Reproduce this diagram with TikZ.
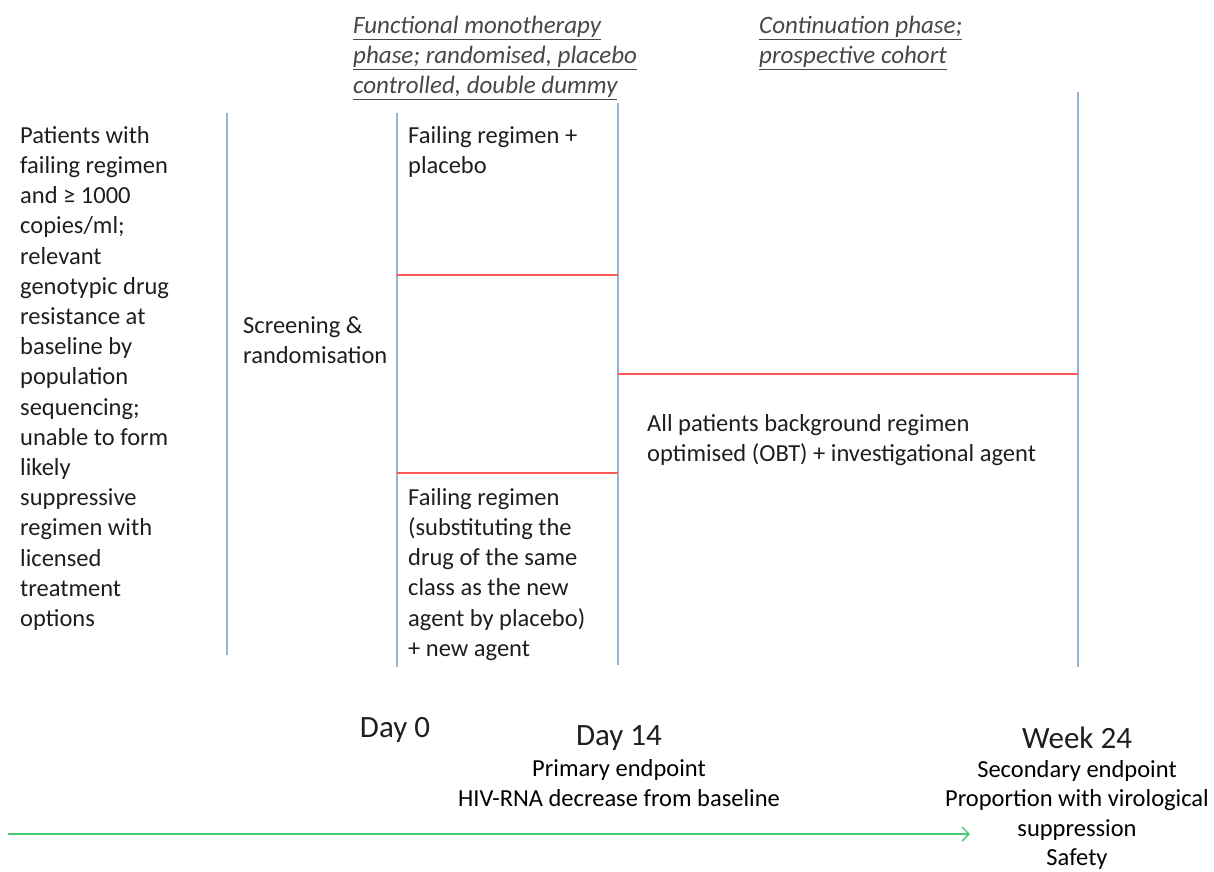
\documentclass[tikz,border=0pt]{standalone}
\usepackage{fontspec}
\setmainfont{Carlito}
\usetikzlibrary{arrows.meta}
\definecolor{phaseblue}{RGB}{149,179,215}
\definecolor{armred}{RGB}{255,85,85}
\definecolor{timegreen}{RGB}{70,200,120}
\definecolor{inkgray}{RGB}{30,30,30}
\tikzset{
  phaseline/.style={draw=phaseblue, line width=2pt},
  armline/.style={draw=armred, line width=1.6pt},
  txt/.style={inner sep=0pt, anchor=north west, align=left, text=inkgray,
    font=\fontsize{24.5}{30.2}\selectfont},
  hdr/.style={txt, text=black!72, font=\fontsize{25}{30}\selectfont\itshape},
  daylbl/.style={inner sep=0pt, anchor=base, text=inkgray, font=\fontsize{31}{34}\selectfont},
  endpt/.style={inner sep=0pt, anchor=north, align=center, text=black,
    font=\fontsize{24.5}{30.5}\selectfont}
}
\begin{document}
\begin{tikzpicture}[x=1pt, y=-1pt]
  \useasboundingbox (0,0) rectangle (1214,871);
  % phase boundaries
  \draw
    (227,113) coordinate (a0) (227,655) coordinate (a1)
    (397,113) coordinate (b0) (397,667) coordinate (b1)
    (618,103) coordinate (c0) (618,665) coordinate (c1)
    (1078,92) coordinate (d0) (1078,667) coordinate (d1);
  \begin{scope}[phaseline]
    \draw (a0) to (a1);
    \draw (b0) to (b1);
    \draw (c0) to (c1);
    \draw (d0) to (d1);
  \end{scope}
  % arms
  \draw
    (397,275) coordinate (r1) (618,275) coordinate (r2)
    (397,473) coordinate (r3) (618,473) coordinate (r4)
    (618,374) coordinate (r5) (1078,374) coordinate (r6);
  \begin{scope}[armline]
    \draw (r1) to (r2);
    \draw (r3) to (r4);
    \draw (r5) to (r6);
  \end{scope}
  % headers
  \node[hdr] (mono) at (353,16) {\underline{Functional monotherapy}\\
    \underline{phase; randomised, placebo}\\\underline{controlled, double dummy}};
  \node[hdr] (cont) at (759,16) {\underline{Continuation phase;}\\
    \underline{prospective cohort}};
  % boxes
  \node[txt] (pat) at (20,126) {Patients with\\failing regimen\\and ≥ 1000\\copies/ml;\\
    relevant\\genotypic drug\\resistance at\\baseline by\\population\\sequencing;\\
    unable to form\\likely\\suppressive\\regimen with\\licensed\\treatment\\options};
  \node[txt] (scr) at (243,316) {Screening \&\\randomisation};
  \node[txt] (plc) at (408,126) {Failing regimen +\\placebo};
  \node[txt] (new) at (408,488) {Failing regimen\\(substituting the\\drug of the same\\
    class as the new\\agent by placebo)\\+ new agent};
  \node[txt] (obt) at (647,414) {All patients background regimen\\
    optimised (OBT) + investigational agent};
  % time points
  \node[daylbl] (day0) at (395,737) {Day 0};
  \node[daylbl] (day14) at (619,745) {Day 14};
  \node[endpt] (prim) at (619,759) {Primary endpoint\\HIV-RNA decrease from baseline};
  \node[daylbl] (wk24) at (1077,748) {Week 24};
  \node[endpt, font=\fontsize{24.5}{29.4}\selectfont] (sec) at (1077,760)
    {Secondary endpoint\\Proportion with virological\\suppression\\Safety};
  % time axis
  \coordinate (t0) at (8,834);
  \coordinate (t1) at (970,834);
  \draw[timegreen, line width=1.4pt, -{Straight Barb[length=7pt, width=14pt]}] (t0) -- (t1);
\end{tikzpicture}
\end{document}
